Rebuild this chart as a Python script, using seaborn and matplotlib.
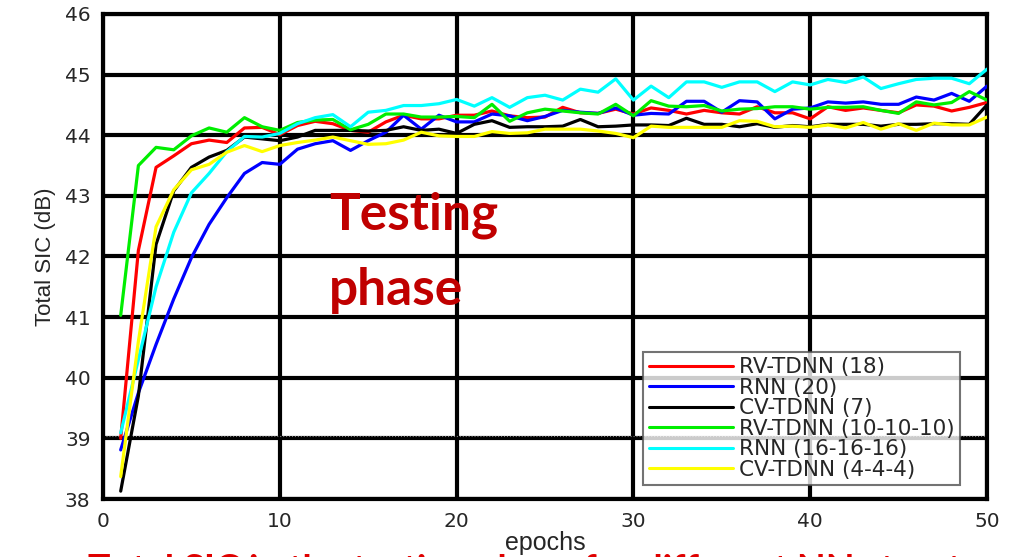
import matplotlib
matplotlib.use("Agg")
import matplotlib.pyplot as plt
import seaborn as sns
import pandas as pd

# Данные: эпохи и Total SIC (dB) для каждой сети
epochs = list(range(1, 51))

rv_tdnn_18 = [39.0, 42.1, 43.47, 43.66, 43.86, 43.92, 43.88, 44.12, 44.13, 44.01,
              44.16, 44.23, 44.19, 44.08, 44.05, 44.22, 44.33, 44.27, 44.27, 44.33,
              44.33, 44.40, 44.32, 44.29, 44.30, 44.46, 44.37, 44.36, 44.43, 44.35,
              44.45, 44.41, 44.35, 44.41, 44.37, 44.35, 44.47, 44.37, 44.37, 44.27,
              44.47, 44.41, 44.45, 44.41, 44.37, 44.50, 44.48, 44.40, 44.46, 44.54]
rnn_20 = [38.81, 39.75, 40.55, 41.3, 41.98, 42.53, 42.97, 43.37, 43.55, 43.52,
          43.77, 43.86, 43.91, 43.75, 43.91, 44.05, 44.33, 44.10, 44.33, 44.22,
          44.22, 44.35, 44.32, 44.24, 44.31, 44.41, 44.38, 44.36, 44.45, 44.33,
          44.36, 44.35, 44.56, 44.56, 44.38, 44.57, 44.55, 44.27, 44.43, 44.45,
          44.55, 44.53, 44.55, 44.51, 44.51, 44.63, 44.58, 44.69, 44.56, 44.81]
cv_tdnn_7 = [38.13, 39.7, 42.2, 43.08, 43.47, 43.64, 43.75, 43.97, 43.94, 43.91,
             43.97, 44.08, 44.08, 44.08, 44.07, 44.08, 44.14, 44.08, 44.10, 44.03,
             44.18, 44.24, 44.13, 44.14, 44.14, 44.15, 44.26, 44.14, 44.15, 44.17,
             44.17, 44.16, 44.28, 44.18, 44.18, 44.14, 44.19, 44.13, 44.16, 44.14,
             44.18, 44.18, 44.18, 44.15, 44.18, 44.18, 44.19, 44.19, 44.18, 44.50]
rv_tdnn_10 = [41.03, 43.50, 43.80, 43.76, 43.99, 44.12, 44.05, 44.29, 44.14, 44.08,
              44.21, 44.25, 44.26, 44.09, 44.18, 44.35, 44.35, 44.30, 44.30, 44.31,
              44.29, 44.51, 44.23, 44.37, 44.43, 44.40, 44.37, 44.35, 44.51, 44.32,
              44.57, 44.48, 44.47, 44.49, 44.40, 44.43, 44.44, 44.47, 44.47, 44.43,
              44.46, 44.46, 44.47, 44.41, 44.36, 44.55, 44.50, 44.54, 44.72, 44.58]
rnn_16 = [39.09, 40.3, 41.5, 42.4, 43.05, 43.37, 43.73, 43.98, 43.97, 44.03,
          44.19, 44.29, 44.34, 44.14, 44.38, 44.41, 44.49, 44.49, 44.52, 44.59,
          44.48, 44.62, 44.46, 44.62, 44.66, 44.58, 44.76, 44.71, 44.93, 44.58,
          44.81, 44.62, 44.88, 44.88, 44.79, 44.88, 44.88, 44.72, 44.88, 44.83,
          44.92, 44.87, 44.96, 44.77, 44.85, 44.92, 44.94, 44.94, 44.85, 45.09]
cv_tdnn_4 = [38.37, 40.6, 42.49, 43.10, 43.43, 43.52, 43.72, 43.83, 43.73, 43.83,
             43.88, 43.92, 43.97, 43.91, 43.85, 43.86, 43.92, 44.05, 43.99, 43.98,
             43.98, 44.06, 44.03, 44.04, 44.10, 44.10, 44.10, 44.07, 44.03, 43.96,
             44.15, 44.13, 44.13, 44.13, 44.13, 44.24, 44.23, 44.14, 44.15, 44.13,
             44.17, 44.12, 44.21, 44.10, 44.19, 44.08, 44.20, 44.17, 44.17, 44.30]

labels = ["RV-TDNN (18)", "RNN (20)", "CV-TDNN (7)",
          "RV-TDNN (10-10-10)", "RNN (16-16-16)", "CV-TDNN (4-4-4)"]
series = [rv_tdnn_18, rnn_20, cv_tdnn_7, rv_tdnn_10, rnn_16, cv_tdnn_4]
colors = ["#ff0000", "#0000ff", "#000000", "#00ee00", "#00ffff", "#ffff00"]

df = pd.concat([pd.DataFrame({"epochs": epochs, "sic": s, "net": name})
                for name, s in zip(labels, series)])

sns.set_style("white")
plt.rcParams['font.family'] = ['DejaVu Sans']

fig = plt.figure(figsize=(10.09, 5.57), dpi=100)
ax = fig.add_axes([0.1021, 0.1041, 0.8761, 0.8708])

sns.lineplot(data=df, x="epochs", y="sic", hue="net", hue_order=labels,
             palette=colors, linewidth=2.3, ax=ax, zorder=3)

ax.set_xlim(0, 50)
ax.set_ylim(38, 46)
ax.set_xticks(range(0, 51, 10))
ax.set_yticks(range(38, 47))
ax.grid(True, color="black", linewidth=3, zorder=1)
ax.set_axisbelow(True)
for sp in ax.spines.values():
    sp.set_color("black")
    sp.set_linewidth(3)
ax.tick_params(length=0, pad=9, labelsize=14.5)
ax.axhline(39.04, color="gray", linestyle=":", linewidth=0.8, zorder=2)

ax.set_xlabel("epochs", fontsize=18, labelpad=0, family=["Liberation Sans"])
ax.set_ylabel("Total SIC (dB)", fontsize=16, labelpad=6, family=["Liberation Sans"])

ax.text(12.8, 42.44, "Testing", color="#c00000", fontsize=37,
        fontweight="bold", family=["Lato", "DejaVu Sans"], va="baseline")
ax.text(12.8, 41.2, "phase", color="#c00000", fontsize=37,
        fontweight="bold", family=["Lato", "DejaVu Sans"], va="baseline")

leg = ax.legend(loc="lower right", bbox_to_anchor=(0.9695, 0.029),
                fontsize=15.5, frameon=True, fancybox=False,
                handlelength=3.9, handletextpad=0.3, labelspacing=0.02,
                borderpad=0.25, borderaxespad=0)
leg.get_frame().set_edgecolor("#505050")
leg.get_frame().set_linewidth(1.5)
for line in leg.get_lines():
    line.set_linewidth(2.2)
leg.set_zorder(5)

# обрезанная подпись снизу
fig.text(0.087, -0.045, "Total SIC in the testing phase for different NN structures",
         color="#e00000", fontsize=27, fontweight="bold",
         family=["Lato", "DejaVu Sans"], va="baseline", ha="left")

fig.savefig("out.png", dpi=100)
